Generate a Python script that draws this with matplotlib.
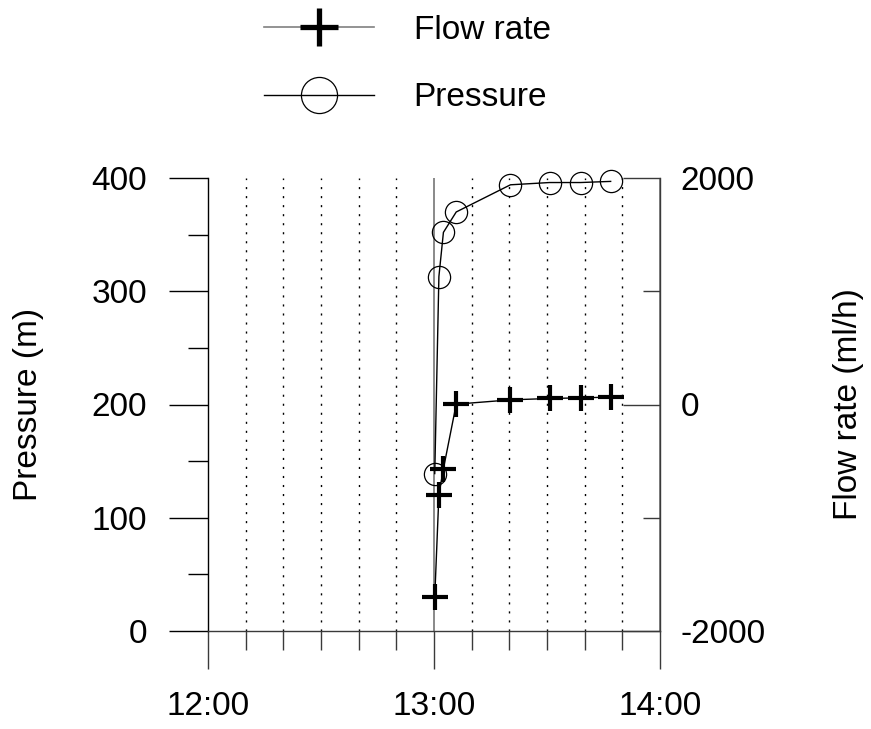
import matplotlib
matplotlib.use("Agg")
import matplotlib.pyplot as plt
from matplotlib.lines import Line2D
from matplotlib.ticker import MultipleLocator, FuncFormatter

plt.rcParams['font.family'] = ['Liberation Sans', 'DejaVu Sans']
plt.rcParams['axes.unicode_minus'] = False

# Measurements
sample_times = ["13:00:12", "13:01:18", "13:02:30", "13:05:54",
                "13:20:18", "13:30:42", "13:38:54", "13:46:54"]
pressure_m = [139, 313, 352, 370, 394, 396, 396, 397]
flow_rate_mlh = [-1700, -797, -568, 3, 41, 53, 59, 65]


def to_minutes(hms):
    h, m, s = (int(v) for v in hms.split(":"))
    return h * 60 + m + s / 60.0


t = [to_minutes(s) for s in sample_times]

W, H = 871, 729
fig = plt.figure(figsize=(W / 100, H / 100), dpi=100)
ax = fig.add_axes([208 / W, 1 - 631 / H, (660 - 208) / W, (631 - 178) / H])
ax2 = ax.twinx()

FS = 24
dark = '#3a3a3a'

# pressure (left axis)
ax.plot(t, pressure_m, color='black', lw=1, marker='o', ms=16,
        mfc='none', mec='black', mew=0.9, zorder=3, clip_on=False)
ax.set_xlim(12 * 60, 14 * 60)
ax.set_ylim(0, 400)

# flow rate (right axis)
ax2.plot(t, flow_rate_mlh, color='black', lw=1, marker='+', ms=19,
         mec='black', mew=3, zorder=4, clip_on=False)
ax2.set_ylim(-2000, 2000)

# x axis: hours with 10 minute minor ticks
ax.xaxis.set_major_locator(MultipleLocator(60))
ax.xaxis.set_minor_locator(MultipleLocator(10))
ax.xaxis.set_major_formatter(FuncFormatter(lambda v, p: f"{int(v // 60)}:{int(v % 60):02d}"))
ax.tick_params(axis='x', which='major', direction='out', length=27.5, width=1,
               color=dark, pad=16, labelsize=FS)
ax.tick_params(axis='x', which='minor', direction='out', length=14, width=1, color=dark)

ax.yaxis.set_major_locator(MultipleLocator(100))
ax.yaxis.set_minor_locator(MultipleLocator(50))
ax.tick_params(axis='y', which='major', direction='out', length=28, width=1,
               color='black', pad=16, labelsize=FS)
ax.tick_params(axis='y', which='minor', direction='out', length=14.5, width=1, color='black')

ax2.yaxis.set_major_locator(MultipleLocator(2000))
ax2.yaxis.set_minor_locator(MultipleLocator(1000))
ax2.tick_params(axis='y', which='major', direction='in', length=26.5, width=1,
                color=dark, pad=15, labelsize=FS)
ax2.tick_params(axis='y', which='minor', direction='in', length=12, width=1, color=dark)

# vertical grid
ax.grid(True, axis='x', which='minor', color='black', lw=1, linestyle=(0, (1.5, 5)))
ax.grid(True, axis='x', which='major', color='#808080', lw=1.3, linestyle='-')
ax.set_axisbelow(True)

for a in (ax, ax2):
    a.spines['top'].set_visible(False)
ax.spines['right'].set_visible(False)
ax.spines['left'].set_color('black')
ax.spines['bottom'].set_color(dark)
ax2.spines['left'].set_visible(False)
ax2.spines['bottom'].set_visible(False)
ax2.spines['right'].set_color(dark)
for sp in ('left', 'bottom'):
    ax.spines[sp].set_linewidth(1)
ax2.spines['right'].set_linewidth(1)

fig.text(28 / W, 1 - 404 / H, "Pressure (m)", rotation=90, fontsize=FS,
         ha='center', va='center')
fig.text(848 / W, 1 - 404 / H, "Flow rate (ml/h)", rotation=90, fontsize=FS,
         ha='center', va='center')

handles = [
    Line2D([], [], color='#808080', lw=1.2, marker='+', ms=27, mec='black', mew=3.8),
    Line2D([], [], color='black', lw=1, marker='o', ms=26, mfc='none', mec='black', mew=0.9),
]
fig.legend(handles, ["Flow rate", "Pressure"], loc='center',
           bbox_to_anchor=(407 / W, 1 - 64 / H), frameon=False, fontsize=FS,
           handlelength=3.3, handletextpad=1.2, labelspacing=1.1, borderpad=0)

fig.savefig("out.png", dpi=100)
